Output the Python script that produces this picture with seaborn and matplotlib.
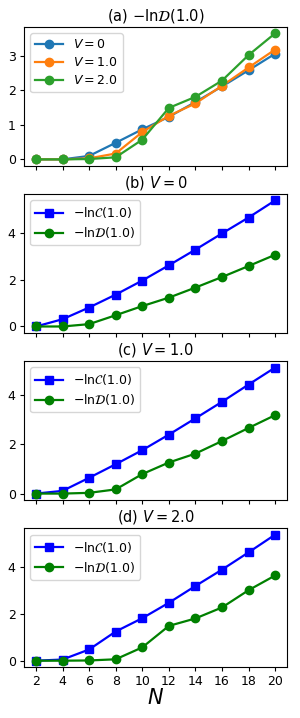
import numpy as np
import pandas as pd
import matplotlib
matplotlib.use("Agg")
import matplotlib.pyplot as plt
import seaborn as sns

# ---------------- DATA ----------------
N = [2, 4, 6, 8, 10, 12, 14, 16, 18, 20]

D_V0 = [0.0, 0.0, 0.10, 0.48, 0.87, 1.23, 1.66, 2.11, 2.58, 3.06]
D_V1 = [0.0, 0.0, 0.03, 0.17, 0.79, 1.26, 1.62, 2.13, 2.66, 3.18]
D_V2 = [0.0, 0.0, 0.01, 0.06, 0.57, 1.49, 1.81, 2.28, 3.02, 3.65]

C_V0 = [0.0, 0.31, 0.81, 1.36, 1.96, 2.61, 3.28, 3.97, 4.65, 5.38]
C_V1 = [0.0, 0.11, 0.64, 1.19, 1.76, 2.39, 3.05, 3.72, 4.42, 5.11]
C_V2 = [0.0, 0.05, 0.48, 1.25, 1.82, 2.48, 3.20, 3.90, 4.64, 5.40]

V_labels = [r"$V=0$", r"$V=1.0$", r"$V=2.0$"]
titles = [r"(a) $-\mathrm{ln}\mathcal{D}(1.0)$", r"(b) $V=0$", r"(c) $V=1.0$", r"(d) $V=2.0$"]
lab_C = r"$-\mathrm{ln}\mathcal{C}(1.0)$"
lab_D = r"$-\mathrm{ln}\mathcal{D}(1.0)$"

# ---------------- STYLE ----------------
plt.rcParams.update({
    "xtick.labelsize": 9,
    "ytick.labelsize": 9,
    "xtick.major.size": 3,
    "ytick.major.size": 3,
    "xtick.major.pad": 3,
    "ytick.major.pad": 3,
    "legend.fontsize": 9,
})

# ---------------- PLOT ----------------
fig, axes = plt.subplots(4, 1, figsize=(3.0, 7.18), dpi=100, sharex=True)
fig.subplots_adjust(left=0.08, right=0.957, top=1 - 27 / 718, bottom=1 - 667 / 718, hspace=0.205)


def line(ax, y, color, marker, label):
    sns.lineplot(x=N, y=y, ax=ax, color=color, marker=marker, label=label,
                 markersize=6, markeredgecolor=color, markeredgewidth=1, linewidth=1.6)


# (a)
ax = axes[0]
for y, c, lab in zip([D_V0, D_V1, D_V2], ["tab:blue", "tab:orange", "tab:green"], V_labels):
    line(ax, y, c, "o", lab)
ax.set_title(titles[0], fontsize=10.5, pad=5)

# (b)-(d)
for ax, C, D, t in zip(axes[1:], [C_V0, C_V1, C_V2], [D_V0, D_V1, D_V2], titles[1:]):
    line(ax, C, "b", "s", lab_C)
    line(ax, D, "g", "o", lab_D)
    ax.set_title(t, fontsize=10.5, pad=5)
    ax.set_yticks([0, 2, 4])

for ax in axes:
    ax.legend(loc="upper left", handlelength=2.2, labelspacing=0.4)

axes[0].set_yticks([0, 1, 2, 3])
axes[-1].set_xticks(N)
axes[-1].set_xlabel(r"$N$", fontsize=15, labelpad=0)

plt.savefig("out.png", dpi=100)
